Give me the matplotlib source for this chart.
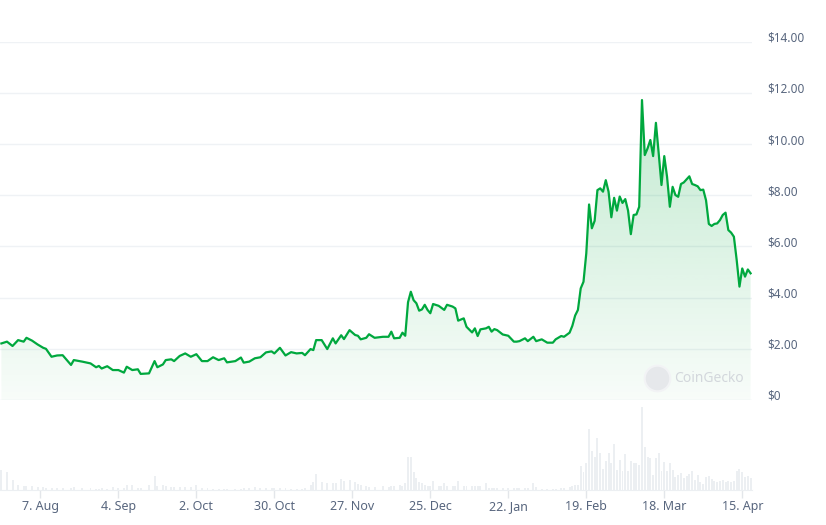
import numpy as np
import pandas as pd
import matplotlib
matplotlib.use("Agg")
import matplotlib.pyplot as plt
import matplotlib.dates as mdates
from matplotlib.transforms import ScaledTranslation

dates = [
    "2023-07-24", "2023-07-26", "2023-07-28", "2023-07-30", "2023-08-01", "2023-08-02", "2023-08-04", "2023-08-06",
    "2023-08-08", "2023-08-09", "2023-08-11", "2023-08-13", "2023-08-15", "2023-08-18", "2023-08-19", "2023-08-22",
    "2023-08-25", "2023-08-27", "2023-08-28", "2023-08-29", "2023-08-31", "2023-09-02", "2023-09-04", "2023-09-06",
    "2023-09-07", "2023-09-09", "2023-09-11", "2023-09-12", "2023-09-15", "2023-09-17", "2023-09-18", "2023-09-20",
    "2023-09-21", "2023-09-23", "2023-09-24", "2023-09-26", "2023-09-28", "2023-09-30", "2023-10-02", "2023-10-04",
    "2023-10-06", "2023-10-08", "2023-10-10", "2023-10-12", "2023-10-13", "2023-10-16", "2023-10-18", "2023-10-19",
    "2023-10-21", "2023-10-23", "2023-10-25", "2023-10-27", "2023-10-29", "2023-10-30", "2023-11-01", "2023-11-03",
    "2023-11-05", "2023-11-07", "2023-11-09", "2023-11-10", "2023-11-12", "2023-11-13", "2023-11-14", "2023-11-16",
    "2023-11-18", "2023-11-20", "2023-11-21", "2023-11-23", "2023-11-24", "2023-11-26", "2023-11-28", "2023-11-29",
    "2023-11-30", "2023-12-02", "2023-12-03", "2023-12-05", "2023-12-08", "2023-12-10", "2023-12-11", "2023-12-12",
    "2023-12-14", "2023-12-15", "2023-12-16", "2023-12-17", "2023-12-18", "2023-12-19", "2023-12-20", "2023-12-21",
    "2023-12-22", "2023-12-23", "2023-12-24", "2023-12-25", "2023-12-26", "2023-12-28", "2023-12-29", "2023-12-30",
    "2023-12-31", "2024-01-02", "2024-01-03", "2024-01-04", "2024-01-06", "2024-01-07", "2024-01-09", "2024-01-10",
    "2024-01-11", "2024-01-12", "2024-01-14", "2024-01-15", "2024-01-16", "2024-01-17", "2024-01-18", "2024-01-20",
    "2024-01-22", "2024-01-24", "2024-01-25", "2024-01-26", "2024-01-28", "2024-01-29", "2024-01-31", "2024-02-01",
    "2024-02-03", "2024-02-05", "2024-02-07", "2024-02-08", "2024-02-10", "2024-02-11", "2024-02-13", "2024-02-14",
    "2024-02-15", "2024-02-16", "2024-02-17", "2024-02-18", "2024-02-19", "2024-02-20", "2024-02-21", "2024-02-22",
    "2024-02-23", "2024-02-24", "2024-02-25", "2024-02-26", "2024-02-27", "2024-02-28", "2024-02-29", "2024-03-01",
    "2024-03-02", "2024-03-03", "2024-03-04", "2024-03-05", "2024-03-06", "2024-03-07", "2024-03-08", "2024-03-09",
    "2024-03-10", "2024-03-11", "2024-03-12", "2024-03-13", "2024-03-14", "2024-03-15", "2024-03-16", "2024-03-17",
    "2024-03-18", "2024-03-19", "2024-03-20", "2024-03-21", "2024-03-22", "2024-03-23", "2024-03-24", "2024-03-25",
    "2024-03-26", "2024-03-27", "2024-03-28", "2024-03-29", "2024-03-30", "2024-03-31", "2024-04-01", "2024-04-02",
    "2024-04-03", "2024-04-04", "2024-04-05", "2024-04-06", "2024-04-07", "2024-04-08", "2024-04-09", "2024-04-10",
    "2024-04-11", "2024-04-12", "2024-04-13", "2024-04-14", "2024-04-15", "2024-04-16", "2024-04-17", "2024-04-18",
]

prices = [
    2.21, 2.28, 2.11, 2.34, 2.28, 2.43, 2.32, 2.17,
    2.04, 2.00, 1.69, 1.74, 1.75, 1.37, 1.56, 1.50,
    1.43, 1.28, 1.33, 1.23, 1.32, 1.17, 1.17, 1.07,
    1.30, 1.17, 1.20, 1.02, 1.04, 1.52, 1.28, 1.39,
    1.56, 1.59, 1.52, 1.72, 1.82, 1.69, 1.79, 1.52,
    1.52, 1.67, 1.56, 1.63, 1.47, 1.52, 1.66, 1.46,
    1.50, 1.63, 1.67, 1.86, 1.90, 1.82, 2.04, 1.74,
    1.87, 1.82, 1.84, 1.75, 1.99, 1.95, 2.34, 2.34,
    1.99, 2.41, 2.21, 2.53, 2.38, 2.73, 2.54, 2.51,
    2.37, 2.43, 2.57, 2.43, 2.47, 2.47, 2.67, 2.41,
    2.43, 2.63, 2.51, 3.82, 4.23, 3.90, 3.78, 3.49,
    3.54, 3.72, 3.52, 3.39, 3.75, 3.68, 3.60, 3.52,
    3.72, 3.65, 3.58, 3.10, 3.19, 2.86, 2.64, 2.80,
    2.50, 2.76, 2.80, 2.86, 2.67, 2.77, 2.73, 2.56,
    2.51, 2.28, 2.28, 2.30, 2.41, 2.30, 2.47, 2.30,
    2.37, 2.24, 2.24, 2.37, 2.50, 2.47, 2.63, 2.90,
    3.30, 3.52, 4.36, 4.62, 5.73, 7.64, 6.71, 7.00,
    8.20, 8.27, 8.14, 8.59, 8.14, 7.14, 7.90, 7.40,
    7.95, 7.70, 7.85, 7.40, 6.48, 7.23, 7.25, 7.55,
    11.72, 9.57, 9.83, 10.16, 9.53, 10.83, 9.64, 8.40,
    9.53, 8.72, 7.55, 8.33, 8.01, 7.94, 8.44, 8.50,
    8.62, 8.74, 8.44, 8.40, 8.35, 8.20, 8.22, 7.80,
    6.88, 6.80, 6.88, 6.90, 7.03, 7.23, 7.32, 6.64,
    6.54, 6.38, 5.47, 4.43, 5.14, 4.82, 5.10, 4.95,
]

volumes = [
    20, 18, 10, 5, 4, 4, 4, 3,
    3, 2, 2, 2, 2, 2, 3, 2,
    2, 1.5, 1.5, 2, 1.5, 3, 2, 2,
    5, 5, 2, 2, 5, 14, 4, 5,
    4, 3, 3, 3, 3, 3, 5, 2,
    2, 1.5, 1, 1, 1, 1.5, 1.5, 2,
    2, 3, 2.5, 2.5, 2, 2, 2.5, 2,
    1, 1, 1.5, 2, 5, 8, 16, 8,
    7, 7, 7, 11, 9, 10, 8, 6,
    5, 4, 3, 3, 4, 3, 4, 4,
    5, 4, 7, 33, 33, 18, 12, 8,
    7, 5, 4, 4, 9, 4, 4, 7,
    4, 4, 4, 9, 4, 4, 4, 4,
    4, 4, 7, 2, 2, 2, 2, 2,
    2, 2, 2, 2, 2, 2, 7, 3,
    1.5, 1.5, 1.5, 1.5, 2, 2, 3, 4,
    5, 5, 24, 18, 27, 61, 39, 33,
    52, 37, 21, 29, 37, 27, 46, 20,
    30, 19, 36, 19, 29, 27, 27, 25,
    83, 43, 33, 32, 15, 32, 37, 19,
    28, 19, 27, 20, 13, 15, 17, 12,
    14, 16, 19, 10, 15, 8, 6, 13,
    14, 11, 9, 8, 9, 10, 8, 9,
    8, 9, 19, 21, 18, 13, 14, 12,
]

tick_dates = ["2023-08-07", "2023-09-04", "2023-10-02", "2023-10-30", "2023-11-27",
              "2023-12-25", "2024-01-22", "2024-02-19", "2024-03-18", "2024-04-15"]
tick_labels = ["7. Aug", "4. Sep", "2. Oct", "30. Oct", "27. Nov",
               "25. Dec", "22. Jan", "19. Feb", "18. Mar", "15. Apr"]
price_ticks = [0, 2, 4, 6, 8, 10, 12, 14]
price_labels = ["$0", "$2.00", "$4.00", "$6.00", "$8.00", "$10.00", "$12.00", "$14.00"]

GREEN = "#00a83e"
TEXT = "#58667e"
GRID = "#eff2f5"
plt.rcParams["font.family"] = ["Noto Sans", "DejaVu Sans"]

W, H = 826, 525
fig = plt.figure(figsize=(W / 100, H / 100), dpi=100)

x = mdates.date2num(pd.to_datetime(dates))
xmin = mdates.date2num(pd.Timestamp("2023-07-23 12:00"))
xmax = mdates.date2num(pd.Timestamp("2024-04-18 12:00"))

# price axes
ax = fig.add_axes([0 / W, 1 - 400 / H, 752 / W, (400 - 41.7) / H])
ax.set_facecolor("none")
fill = ax.fill_between(x, prices, 0, color="none", linewidth=0)
n = 256
rgba = np.zeros((n, 1, 4))
rgba[..., 0] = 0 / 255
rgba[..., 1] = 168 / 255
rgba[..., 2] = 62 / 255
rgba[..., 3] = np.linspace(0.03, 0.24, n).reshape(-1, 1)
im = ax.imshow(rgba, extent=[x[0], x[-1], 0, max(prices)], origin="lower",
               aspect="auto", zorder=1, interpolation="bilinear")
im.set_clip_path(fill.get_paths()[0], transform=ax.transData)
ax.plot(x, prices, color=GREEN, lw=1.6, zorder=3, solid_joinstyle="round")

ax.set_xlim(xmin, xmax)
ax.set_ylim(0, 14)
ax.set_yticks(price_ticks)
ax.set_yticklabels(price_labels)
ax.yaxis.tick_right()
ax.tick_params(axis="y", length=0, pad=11, labelsize=8.5, labelcolor=TEXT)
offset = ScaledTranslation(0, 5 / 100, fig.dpi_scale_trans)
for lab in ax.get_yticklabels():
    lab.set_horizontalalignment("left")
    lab.set_transform(lab.get_transform() + offset)
ax.set_xticks([])
ax.grid(axis="y", color=GRID, lw=1, zorder=0)
ax.set_axisbelow(True)
for s in ax.spines.values():
    s.set_visible(False)

# watermark
wy = (400 - 378) / (400 - 41.7)
ax.scatter([656.5 / 752], [wy], transform=ax.transAxes, s=340, color="#e6e8eb",
           edgecolors="#f2f3f5", linewidths=1.5, zorder=2, clip_on=False)
ax.text(674 / 752, wy, "CoinGecko", transform=ax.transAxes,
        ha="left", va="center", fontsize=10, color="#d3d7dc", fontweight="semibold", zorder=2)

# volume axes
vax = fig.add_axes([0 / W, 1 - 490 / H, 752 / W, 90 / H])
vax.set_facecolor("none")
vax.bar(x, volumes, width=0.7, color="#eceff2", linewidth=0)
vax.set_xlim(xmin, xmax)
vax.set_ylim(0, 90)
vax.set_yticks([])
vax.set_xticks(mdates.date2num(pd.to_datetime(tick_dates)))
vax.set_xticklabels(tick_labels)
vax.tick_params(axis="x", length=5.8, width=1, color="#e3e6ea", pad=1.5, labelsize=9, labelcolor=TEXT)
for k, s in vax.spines.items():
    s.set_visible(k == "bottom")
vax.spines["bottom"].set_color("#eceff2")

fig.savefig("out.png", dpi=100, facecolor="white")
